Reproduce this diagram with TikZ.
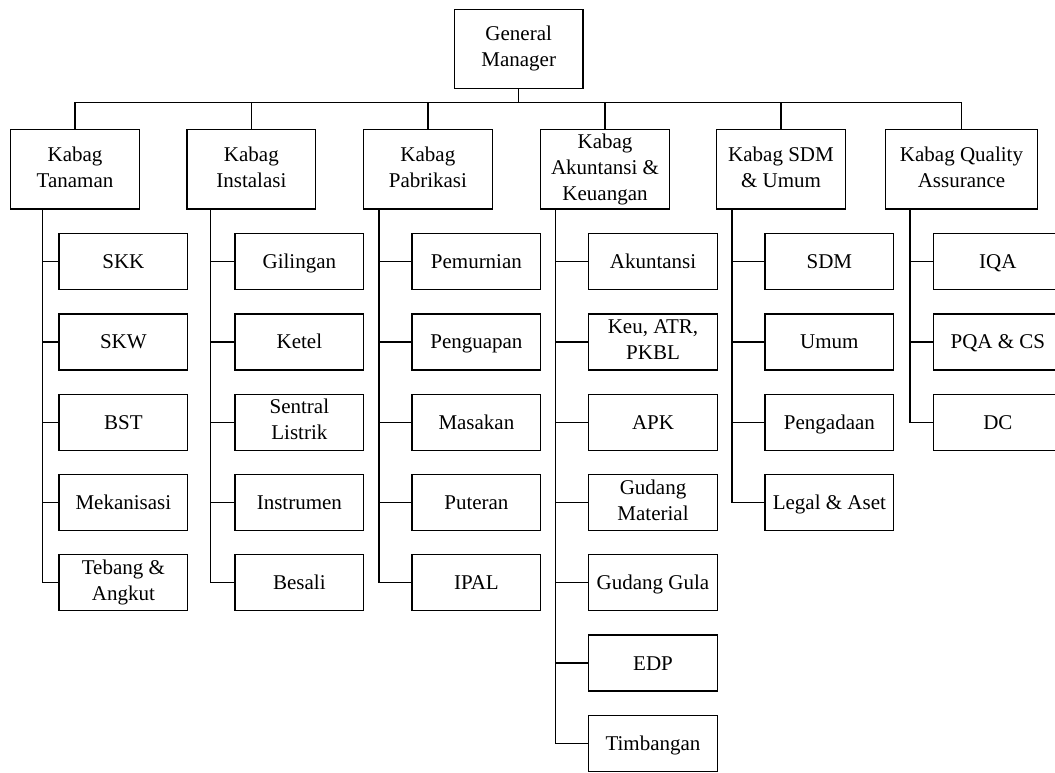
\documentclass[tikz,border=0pt]{standalone}
\usepackage{fontspec}
\setmainfont{Liberation Serif}

\newcommand{\orgstrut}{\rule[-2.6pt]{0pt}{12.2pt}}

\tikzset{
  kabag/.style={draw, align=center, inner xsep=2pt, inner ysep=0pt, minimum width=64.35pt, minimum height=39.65pt,
    execute at begin node=\orgstrut, execute at end node=\orgstrut, font=\fontsize{10.5}{13}\selectfont},
  seksi/.style={draw, align=center, inner xsep=2pt, inner ysep=0pt, minimum width=64.35pt, minimum height=28pt,
    execute at begin node=\orgstrut, execute at end node=\orgstrut, font=\fontsize{10.5}{13}\selectfont}
}

\begin{document}
\begin{tikzpicture}[x=0.5pt, y=-0.5pt, line width=0.7pt]
\useasboundingbox (0,0) rectangle (1055,772);
\clip (0,0) rectangle (1055,772);

% General Manager
\node[kabag] (gm) at (518.7,48.9) {General\\Manager};

% Kepala bagian
\node[kabag] (tan) at (75,169.4) {Kabag\\Tanaman};
\node[kabag] (ins) at (251.4,169.4) {Kabag\\Instalasi};
\node[kabag] (pab) at (427.9,169.4) {Kabag\\Pabrikasi};
\node[kabag] (aku) at (605,169.4) {Kabag\\Akuntansi \&\\Keuangan};
\node[kabag] (sdm) at (781,169.4) {Kabag SDM\\\& Umum};
\node[kabag, minimum width=76.2pt] (qa) at (961.5,169.4) {Kabag Quality\\Assurance};

% Garis komando
\coordinate (bus) at (0,102.5);
\foreach \k in {tan,ins,pab,aku,sdm,qa}
  \draw (gm.south) |- (bus -| \k.north) -- (\k.north);

% Seksi per bagian
\foreach \t [count=\r from 0] in {SKK,SKW,BST,Mekanisasi,{Tebang \&\\Angkut}} {
  \node[seksi] (tan\r) at (123.4,261.7+80.27*\r) {\t};
  \draw ([xshift=16.15pt]tan.south west) |- (tan\r.west);
}
\foreach \t [count=\r from 0] in {Gilingan,Ketel,{Sentral\\Listrik},Instrumen,Besali} {
  \node[seksi] (ins\r) at (299.4,261.7+80.27*\r) {\t};
  \draw ([xshift=12.1pt]ins.south west) |- (ins\r.west);
}
\foreach \t [count=\r from 0] in {Pemurnian,Penguapan,Masakan,Puteran,IPAL} {
  \node[seksi] (pab\r) at (476.4,261.7+80.27*\r) {\t};
  \draw ([xshift=8pt]pab.south west) |- (pab\r.west);
}
\foreach \t [count=\r from 0] in {Akuntansi,{Keu, ATR,\\PKBL},APK,{Gudang\\Material},Gudang Gula,EDP,Timbangan} {
  \node[seksi] (aku\r) at (653,261.7+80.27*\r) {\t};
  \draw ([xshift=7.85pt]aku.south west) |- (aku\r.west);
}
\foreach \t [count=\r from 0] in {SDM,Umum,Pengadaan,Legal \& Aset} {
  \node[seksi] (sdm\r) at (829.4,261.7+80.27*\r) {\t};
  \draw ([xshift=8.05pt]sdm.south west) |- (sdm\r.west);
}
\foreach \t [count=\r from 0] in {IQA,PQA \& CS,DC} {
  \node[seksi] (qa\r) at (997.9,261.7+80.27*\r) {\t};
  \draw ([xshift=12.6pt]qa.south west) |- (qa\r.west);
}
\end{tikzpicture}
\end{document}
